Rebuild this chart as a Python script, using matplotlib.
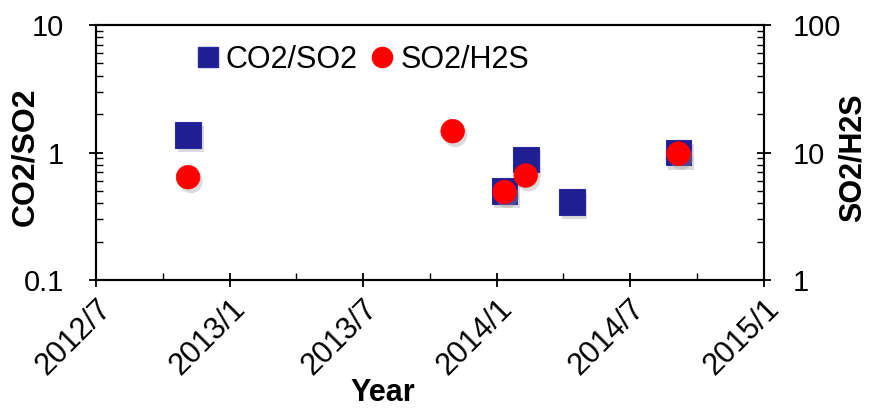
import matplotlib
matplotlib.use("Agg")
import matplotlib.pyplot as plt
import matplotlib.dates as mdates
import matplotlib.ticker as mticker
import matplotlib.patheffects as pe
from matplotlib.lines import Line2D
import numpy as np
import datetime as dt

plt.rcParams['font.family'] = ['Liberation Sans', 'DejaVu Sans']

# ---- data ----
co2_dates = ['2012-11-04', '2014-01-11', '2014-02-09', '2014-04-13', '2014-09-06']
co2_so2 = [1.38, 0.50, 0.88, 0.41, 1.0]
so2_dates = ['2012-11-04', '2013-11-01', '2014-01-11', '2014-02-09', '2014-09-06']
so2_h2s = [6.4, 14.7, 4.9, 6.6, 9.8]
x_start, x_end = '2012-07-01', '2015-01-01'
left_ylim = (0.1, 10)
right_ylim = (1, 100)
series_names = ['CO2/SO2', 'SO2/H2S']

def to_dt(s):
    return dt.datetime.strptime(s, '%Y-%m-%d')

fig = plt.figure(figsize=(8.7, 4.08), dpi=100)
ax = fig.add_axes([96/870, 1-280/408, (764-96)/870, (280-25)/408])
ax2 = ax.twinx()

sq_color = '#1f1f92'
ci_color = '#ff0000'
shadow = [pe.SimplePatchShadow(offset=(2, -3), shadow_rgbFace='#999999', alpha=0.35), pe.Normal()]

ax.plot([to_dt(d) for d in co2_dates], co2_so2, linestyle='none', marker='s',
        markersize=18.5, markerfacecolor=sq_color, markeredgecolor='#2a2aa0',
        markeredgewidth=0.8, path_effects=shadow, zorder=3)
ax2.plot([to_dt(d) for d in so2_dates], so2_h2s, linestyle='none', marker='o',
         markersize=17, markerfacecolor=ci_color, markeredgecolor=ci_color,
         markeredgewidth=0.5, path_effects=shadow, zorder=3)

ax.set_xlim(to_dt(x_start), to_dt(x_end))
ax.set_yscale('log')
ax.set_ylim(*left_ylim)
ax2.set_yscale('log')
ax2.set_ylim(*right_ylim)

ax.xaxis.set_major_locator(mdates.MonthLocator(bymonth=[1, 7]))
ax.xaxis.set_minor_locator(mdates.MonthLocator(bymonth=[4, 10]))
ax.xaxis.set_major_formatter(mticker.FuncFormatter(
    lambda v, p: f"{mdates.num2date(v).year}/{mdates.num2date(v).month}"))

fmt = mticker.FuncFormatter(lambda v, p: f"{v:g}")
for a in (ax, ax2):
    a.yaxis.set_major_locator(mticker.LogLocator(base=10))
    a.yaxis.set_minor_locator(mticker.LogLocator(base=10, subs=np.arange(2, 10)))
    a.yaxis.set_major_formatter(fmt)
    a.yaxis.set_minor_formatter(mticker.NullFormatter())
    for s in a.spines.values():
        s.set_linewidth(1.5)

ax.tick_params(axis='y', which='major', direction='inout', length=10, width=1.3,
               labelsize=21, pad=18)
ax.tick_params(axis='y', which='minor', direction='in', length=5, width=1.0)
ax2.tick_params(axis='y', which='major', direction='inout', length=10, width=1.3,
                labelsize=21, pad=16)
ax2.tick_params(axis='y', which='minor', direction='in', length=5, width=1.0)
ax.tick_params(axis='x', which='major', direction='inout', length=10, width=1.3,
               labelsize=22, pad=5)
ax.tick_params(axis='x', which='minor', direction='in', length=5, width=1.0)
for lbl in ax.get_xticklabels():
    lbl.set_rotation(45)
    lbl.set_ha('right')
    lbl.set_rotation_mode('anchor')

handles = [
    Line2D([], [], linestyle='none', marker='s', markersize=14.5,
           markerfacecolor=sq_color, markeredgecolor='#2a2aa0'),
    Line2D([], [], linestyle='none', marker='o', markersize=14.5,
           markerfacecolor=ci_color, markeredgecolor=ci_color),
]
leg = ax.legend(handles, series_names, loc='center left', bbox_to_anchor=(0.135, 0.863),
                ncol=2, frameon=False, fontsize=22, handlelength=0.6,
                handletextpad=0.3, columnspacing=0.5, borderaxespad=0)

fig.text(25/870, 1-157/408, 'CO2/SO2', rotation=90, ha='center', va='center',
         fontsize=23, fontweight='bold')
fig.text(853/870, 1-158/408, 'SO2/H2S', rotation=90, ha='center', va='center',
         fontsize=22, fontweight='bold')
fig.text(383/870, 1-393/408, 'Year', ha='center', va='center',
         fontsize=22, fontweight='bold')

fig.savefig('out.png', dpi=100)
